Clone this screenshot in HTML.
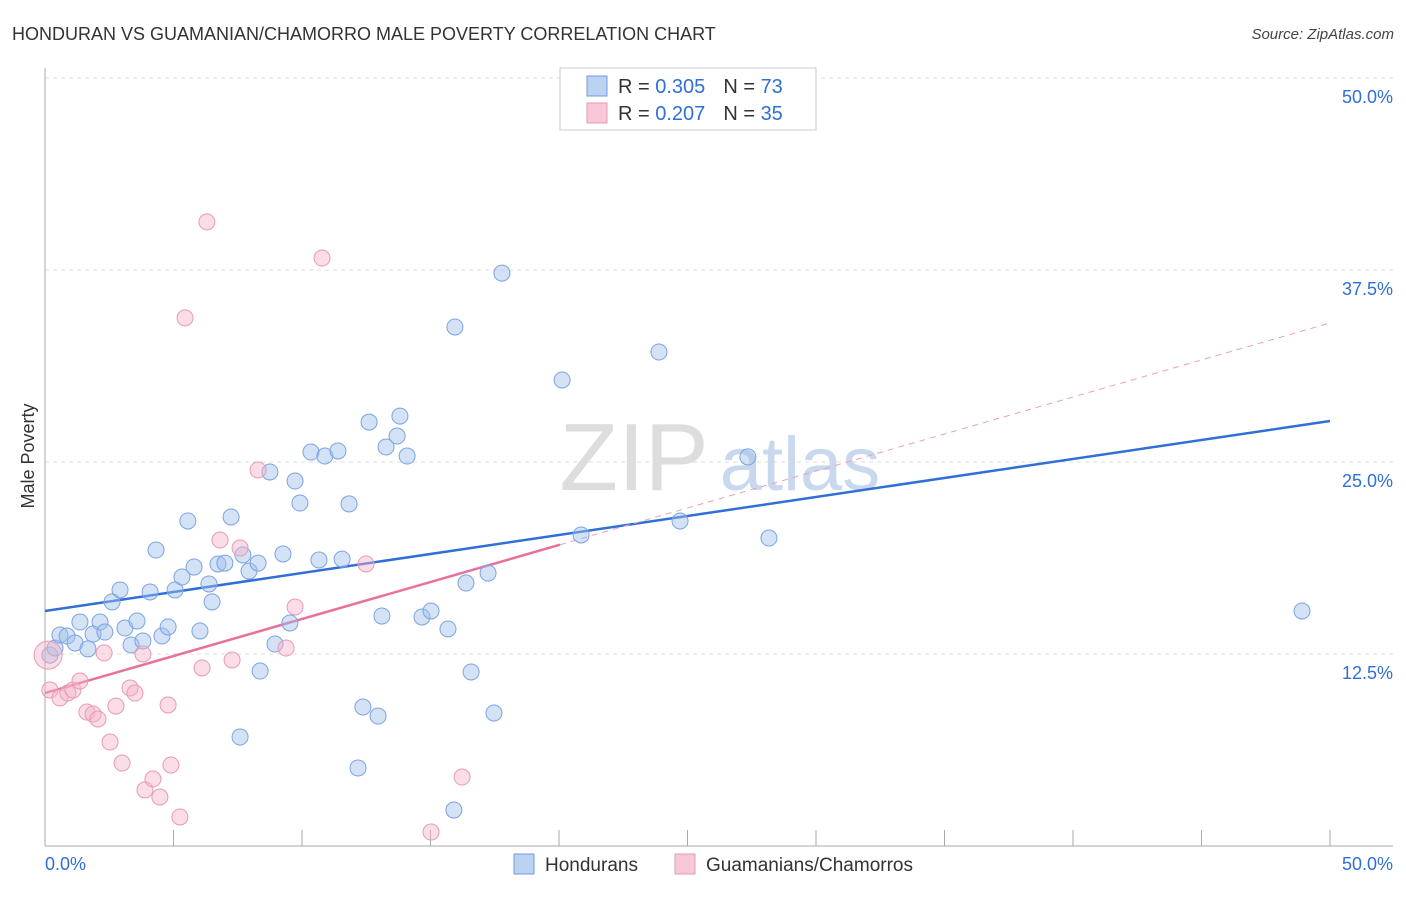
<!DOCTYPE html>
<html><head><meta charset="utf-8">
<style>
body{margin:0;background:#fff;font-family:"Liberation Sans",sans-serif;}
svg text{font-family:"Liberation Sans",sans-serif;}
</style></head>
<body>
<svg id="chart" width="1406" height="892" xmlns="http://www.w3.org/2000/svg">
<text x="12" y="40" font-size="18" fill="#333">HONDURAN VS GUAMANIAN/CHAMORRO MALE POVERTY CORRELATION CHART</text>
<text x="1394" y="39" font-size="15" fill="#444" font-style="italic" text-anchor="end">Source: ZipAtlas.com</text>
<g>
<text x="634" y="490" font-size="96" fill="#ddd" font-family="Liberation Serif" text-anchor="middle">ZIP</text>
<text x="800" y="490" font-size="76" fill="#c8d8ef" text-anchor="middle">atlas</text>
</g>
<g id="grid"></g>
<g id="axes"></g>
<g id="trends"></g>
<g id="points"></g>
<text transform="translate(34,456) rotate(-90)" font-size="18" fill="#333" text-anchor="middle">Male Poverty</text>
<g>
<rect x="560" y="68" width="256" height="62" fill="#fff" stroke="#ccc"/>
<rect x="587" y="76" width="20" height="20" fill="#bcd2f3" stroke="#6f9be0"/>
<rect x="587" y="103" width="20" height="20" fill="#f8c8d8" stroke="#e79ab5"/>
<text x="618" y="93" font-size="20" fill="#333">R = <tspan fill="#2f6fd6">0.305</tspan><tspan dx="18">N = </tspan><tspan fill="#2f6fd6">73</tspan></text>
<text x="618" y="120" font-size="20" fill="#333">R = <tspan fill="#2f6fd6">0.207</tspan><tspan dx="18">N = </tspan><tspan fill="#2f6fd6">35</tspan></text>
</g>
<g>
<rect x="514" y="854" width="20" height="20" fill="#bcd2f3" stroke="#6f9be0"/>
<text x="545" y="871" font-size="19" fill="#333">Hondurans</text>
<rect x="675" y="854" width="20" height="20" fill="#f8c8d8" stroke="#e79ab5"/>
<text x="706" y="871" font-size="19" fill="#333">Guamanians/Chamorros</text>
</g>
</svg>
<script>
const blueX=[0.19,0.39,0.58,0.86,1.17,1.36,1.67,1.87,2.14,2.33,2.61,2.92,3.11,3.35,3.58,3.81,4.09,4.32,4.55,4.79,5.06,5.33,5.56,5.80,6.03,6.38,6.50,6.73,7.00,7.24,7.59,7.70,7.94,8.29,8.37,8.75,8.95,9.26,9.53,9.73,9.92,10.35,10.66,10.89,11.40,11.56,11.83,12.18,12.37,12.61,12.96,13.11,13.27,13.70,13.81,14.09,14.67,15.02,15.68,15.95,15.91,16.38,16.58,17.24,17.47,17.78,20.12,20.86,23.89,24.71,27.35,28.17,48.91];
const blueY=[12.43,12.89,13.74,13.67,13.22,14.58,12.83,13.80,14.58,13.93,15.89,16.67,14.19,13.09,14.65,13.35,16.54,19.27,13.67,14.26,16.67,17.51,21.16,18.16,14.00,17.06,15.89,18.36,18.42,21.42,7.10,18.95,17.90,18.42,11.39,24.35,13.15,19.01,14.52,23.76,22.33,25.65,18.62,25.39,25.72,18.68,22.27,5.08,9.05,27.60,8.46,14.97,25.98,26.69,27.99,25.39,14.91,15.30,14.13,33.79,2.34,17.12,11.33,17.77,8.66,37.30,30.34,20.25,32.16,21.16,25.33,20.05,15.30];
const pinkX=[0.12,0.19,0.58,0.89,1.09,1.36,1.63,1.87,2.06,2.30,2.53,2.76,3.00,3.31,3.50,3.81,3.89,4.20,4.47,4.79,4.90,5.25,5.45,6.11,6.30,6.81,7.28,7.59,8.29,9.38,9.73,10.78,12.49,15.02,16.23];
const pinkY=[12.43,10.16,9.64,9.96,10.16,10.74,8.72,8.59,8.27,12.57,6.77,9.11,5.40,10.29,9.96,12.50,3.65,4.36,3.19,9.18,5.27,1.89,34.38,11.59,40.63,19.92,12.11,19.40,24.48,12.89,15.56,38.28,18.36,0.91,4.49];
const blueTrend=[15.3,27.67];
const pinkTrend=[9.96,34.05];
const pinkSolidEnd=20.04;
const yTicks=[12.5,25,37.5,50];
const yTickLabels=["12.5%","25.0%","37.5%","50.0%"];
const xTicks=[0,5,10,15,20,25,30,35,40,45,50];

const NS="http://www.w3.org/2000/svg";
const X=v=>45+v*25.7, Y=v=>846-v*15.36;
function mk(tag,attrs,parent){const e=document.createElementNS(NS,tag);for(const k in attrs)e.setAttribute(k,attrs[k]);parent.appendChild(e);return e;}
const grid=document.getElementById('grid'),axes=document.getElementById('axes'),trends=document.getElementById('trends'),pts=document.getElementById('points');
yTicks.forEach((t,i)=>{
 const l=mk('line',{x1:45,x2:1393,y1:Y(t),y2:Y(t),stroke:'#ddd','stroke-dasharray':'4,4'},grid);
 
 
 const tx=mk('text',{x:1393,y:Y(t)+25,'font-size':18,fill:'#2f6fd6','text-anchor':'end'},axes);
 tx.textContent=yTickLabels[i];
 
 
});
mk('line',{x1:45,x2:45,y1:68,y2:846,stroke:'#aaa'},axes);
mk('line',{x1:45,x2:1393,y1:846,y2:846,stroke:'#aaa'},axes);
xTicks.forEach(t=>{
 const l=mk('line',{x1:X(t),x2:X(t),y1:846,y2:830,stroke:'#aaa'},axes);
 
 
});
const xl0=mk('text',{x:45,y:870,'font-size':18,fill:'#2f6fd6'},axes);xl0.textContent='0.0%';


const xl1=mk('text',{x:1393,y:870,'font-size':18,fill:'#2f6fd6','text-anchor':'end'},axes);xl1.textContent='50.0%';



function pt(x,y,fill,stroke,r){const c=mk('circle',{cx:X(x),cy:Y(y),r:r,fill:fill,stroke:stroke,'stroke-width':1},pts);return c;}
blueX.forEach((x,i)=>{const c=pt(x,blueY[i],'rgba(160,190,235,0.45)','#7ba3e2',8);
 
 });
pinkX.forEach((x,i)=>{const c=pt(x,pinkY[i],'rgba(245,180,200,0.45)','#e79ab5',i===0?14:8);
 
 });
const pAt=x=>pinkTrend[0]+(pinkTrend[1]-pinkTrend[0])*x/50;
const bl=mk('line',{x1:X(0),y1:Y(blueTrend[0]),x2:X(50),y2:Y(blueTrend[1]),stroke:'#2f6fd6','stroke-width':2.5},trends);


const ps=mk('line',{x1:X(0),y1:Y(pAt(0)),x2:X(pinkSolidEnd),y2:Y(pAt(pinkSolidEnd)),stroke:'#e8709a','stroke-width':2.5},trends);


const pd=mk('line',{x1:X(pinkSolidEnd),y1:Y(pAt(pinkSolidEnd)),x2:X(50),y2:Y(pAt(50)),stroke:'#e8a0b8','stroke-width':1,'stroke-dasharray':'6,5'},trends);


</script>
</body></html>
